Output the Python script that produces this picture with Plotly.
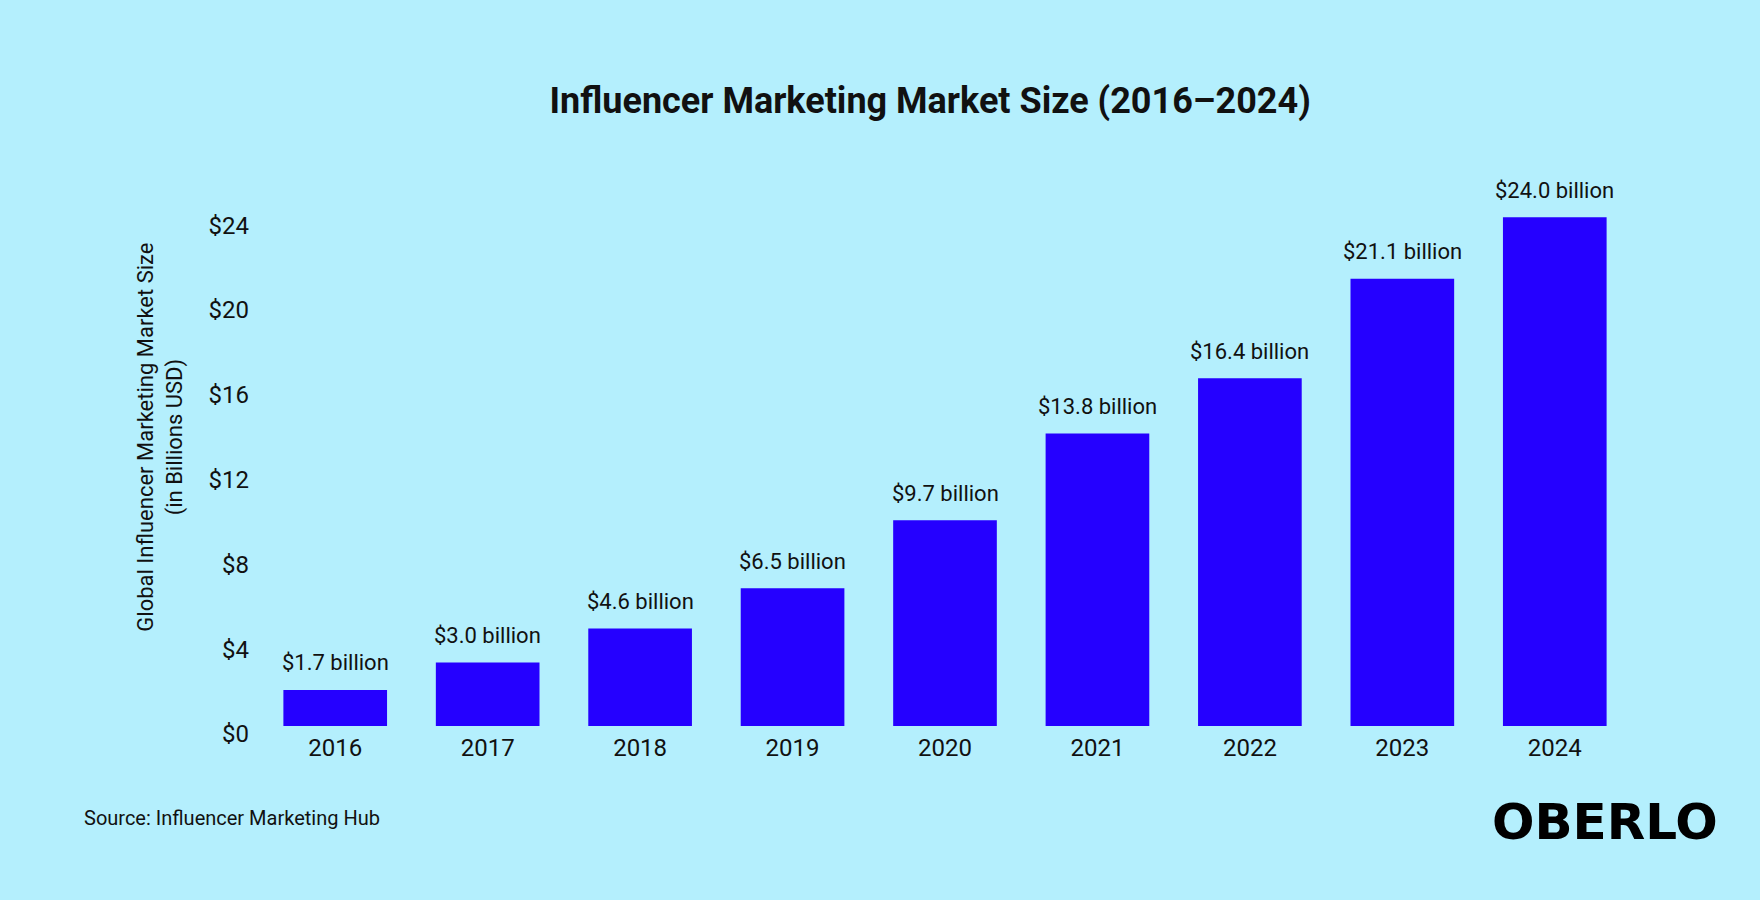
import plotly.graph_objects as go

# Chart data
years = ["2016", "2017", "2018", "2019", "2020", "2021", "2022", "2023", "2024"]
market_size = [1.7, 3.0, 4.6, 6.5, 9.7, 13.8, 16.4, 21.1, 24.0]
bar_labels = ["$%.1f billion" % v for v in market_size]
y_ticks = [0, 4, 8, 12, 16, 20, 24]
y_tick_labels = ["$" + str(t) for t in y_ticks]

bg = "#B4EFFD"
bar_color = "#2500FF"
text_color = "#111111"

fig = go.Figure()
fig.add_trace(go.Bar(x=years, y=market_size, marker=dict(color=bar_color, line=dict(width=0)),
                     hoverinfo="skip"))

# Value labels above each bar (category index, since the year names look numeric)
for i, (val, lbl) in enumerate(zip(market_size, bar_labels)):
    fig.add_annotation(x=i, y=val, text=lbl, showarrow=False, yanchor="middle", yshift=27,
                       font=dict(family="Roboto", size=22, color=text_color))

# Y axis title (two lines, rotated)
fig.add_annotation(text="Global Influencer Marketing Market Size<br>(in Billions USD)",
                   xref="paper", yref="paper", x=-0.0718, y=0.545, xanchor="center", yanchor="middle",
                   textangle=-90, showarrow=False,
                   font=dict(family="Roboto", size=22, color=text_color))

# Source note
fig.add_annotation(text="Source: Influencer Marketing Hub", xref="paper", yref="paper",
                   x=-0.129, y=-0.174, xanchor="left", yanchor="middle", showarrow=False,
                   font=dict(family="Roboto", size=20, color=text_color))

# Logo
fig.add_annotation(text="<b>OBERLO</b>", xref="paper", yref="paper",
                   x=1.065, y=-0.181, xanchor="right", yanchor="middle", showarrow=False,
                   font=dict(family="DejaVu Sans", size=50, color="#000000"))

fig.update_layout(
    width=1760, height=900,
    paper_bgcolor=bg, plot_bgcolor=bg,
    margin=dict(l=259, r=129, t=196, b=174),
    bargap=0.32,
    showlegend=False,
    title=dict(text="<b>Influencer Marketing Market Size (2016–2024)</b>",
               x=0.5285, xref="container", xanchor="center",
               y=1 - 100 / 900, yref="container", yanchor="middle",
               font=dict(family="Roboto", size=36, color=text_color)),
    xaxis=dict(type="category", range=[-0.5, len(years) - 0.5], showgrid=False, zeroline=False,
               showline=False, ticks="", ticklabelstandoff=5,
               tickfont=dict(family="Roboto", size=24, color=text_color)),
    yaxis=dict(range=[0, 25], showgrid=False, zeroline=False, showline=False, ticks="",
               tickvals=y_ticks, ticktext=y_tick_labels, ticklabelshift=8, ticklabelstandoff=9,
               tickfont=dict(family="Roboto", size=24, color=text_color)),
)

# drop the browser's default page margin so the figure fills the window
fig.write_html("out.html", config={"displayModeBar": False},
               post_script="document.body.style.margin = '0';")
